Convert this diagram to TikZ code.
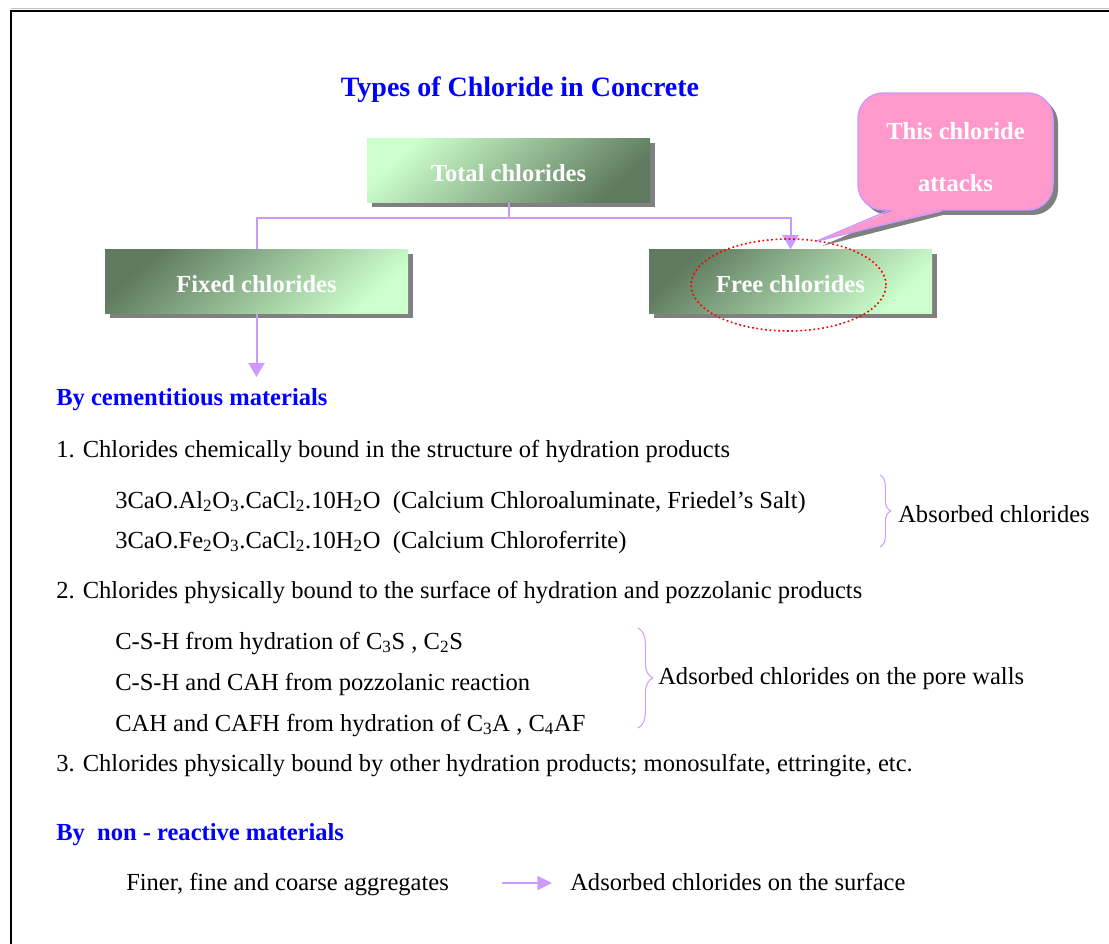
\documentclass[tikz,border=0pt]{standalone}
\usepackage{fontspec}
\setmainfont{Liberation Serif}
\usetikzlibrary{arrows.meta,shadows,decorations.pathreplacing,shapes.geometric}
\definecolor{lav}{HTML}{CC99FF}
\definecolor{pinkc}{HTML}{FF99CC}
\definecolor{gLight}{HTML}{CCFFCC}
\definecolor{gDark}{HTML}{5F7A5F}
\definecolor{shadowg}{HTML}{808080}
\definecolor{titleblue}{HTML}{0000FF}
\newcommand\bodyfs{\fontsize{18.4pt}{22pt}\selectfont}
\newcommand\boldfs{\fontsize{18.4pt}{22pt}\selectfont\bfseries}
\begin{document}
\begin{tikzpicture}[x=0.75pt,y=-0.75pt,
  txt/.style={font=\bodyfs, inner sep=0pt, anchor=base west},
  head/.style={font=\boldfs, text=titleblue, inner sep=0pt, anchor=base west},
  gbox/.style={minimum height=48pt, inner sep=0pt, text=white, font=\boldfs,
    text height=17pt, text depth=1pt,
    general shadow={fill=shadowg, shadow xshift=3.75pt, shadow yshift=-3.75pt}},
  boxA/.style={gbox, top color=gLight, bottom color=gDark, shading angle=42},
  boxB/.style={gbox, top color=gDark, bottom color=gLight, shading angle=42},
  conn/.style={draw=lav, line width=1.5pt},
  tip/.style={-{Triangle[width=12pt,length=10.5pt]}},
  bracestyle/.style={draw=lav, line width=0.75pt, decorate}
]
\useasboundingbox (0,0) rectangle (1109,944);
% frame
\draw[black!25, line width=0.75pt] (11,8.5) -- (1109,8.5);
\draw[black, line width=1.5pt] (11,944) -- (11,11) -- (1109,11);

% title
\node[font=\fontsize{21pt}{25pt}\selectfont\bfseries, text=titleblue, inner sep=0pt, anchor=base] (title) at (520,97) {Types of Chloride in Concrete};

% boxes
\node[boxA, minimum width=212.25pt] (total) at (508.5,170.5) {Total chlorides};
\node[boxB, minimum width=227.25pt] (fixed) at (256.5,281.5) {Fixed chlorides};
\node[boxB, minimum width=212.25pt] (free) at (790.5,281.5) {Free chlorides};

% connectors
\draw[conn] (total.south) -- ++(0,15) -| (fixed.north);
\draw[conn, tip] (total.south) -- ++(0,15) -| (free.north);
\coordinate (fixedend) at (256.5,377);
\draw[conn, tip] (fixed.south) -- (fixedend);

% red dotted ellipse
\node[ellipse, draw=red, line width=1.2pt, dash pattern=on 1.3pt off 2pt, minimum width=146.25pt, minimum height=69pt, inner sep=0pt] (ring) at (788.5,285) {};

% callout
\coordinate (ctip) at (817,241);
\fill[shadowg, rounded corners=19pt] (863,98) rectangle (1058,215);
\fill[shadowg] (895,214) -- (822,246) -- (947,214) -- cycle;
\draw[fill=pinkc, draw=lav, line width=1.1pt, rounded corners=19pt] (858,93) rectangle (1053,210);
\fill[pinkc] (890,211.5) -- (ctip) -- (942,211.5) -- cycle;
\fill[pinkc] (891,207) rectangle (941,212);
\draw[draw=lav, line width=1.1pt, line join=round] (890,210) -- (ctip) -- (942,210);
\node[font=\boldfs, text=white, inner sep=0pt, anchor=base] (call1) at (955.5,140) {This chloride};
\node[font=\boldfs, text=white, inner sep=0pt, anchor=base] (call2) at (955.5,192) {attacks};

% body text
\node[head] (h1) at (56,406) {By cementitious materials};
\node[txt] (l1) at (56,457) {1. Chlorides chemically bound in the structure of hydration products};
\node[txt] (f1) at (115,508) {3CaO.Al\textsubscript{2}O\textsubscript{3}.CaCl\textsubscript{2}.10H\textsubscript{2}O\ \ (Calcium Chloroaluminate, Friedel’s Salt)};
\node[txt] (f2) at (115,548) {3CaO.Fe\textsubscript{2}O\textsubscript{3}.CaCl\textsubscript{2}.10H\textsubscript{2}O\ \ (Calcium Chloroferrite)};
\draw[bracestyle, decoration={brace, amplitude=8pt}] (880,475) -- (880,547);
\node[txt] (abs) at (898,522) {Absorbed chlorides};

\node[txt] (l2) at (56,598) {2. Chlorides physically bound to the surface of hydration and pozzolanic products};
\node[txt] (c1) at (115,649) {C-S-H from hydration of C\textsubscript{3}S , C\textsubscript{2}S};
\node[txt] (c2) at (115,690) {C-S-H and CAH from pozzolanic reaction};
\node[txt] (c3) at (115,731) {CAH and CAFH from hydration of C\textsubscript{3}A , C\textsubscript{4}AF};
\draw[bracestyle, decoration={brace, amplitude=11pt}] (638,628) -- (638,728);
\node[txt] (ads) at (658,684) {Adsorbed chlorides on the pore walls};

\node[txt] (l3) at (56,771) {3. Chlorides physically bound by other hydration products; monosulfate, ettringite, etc.};

\node[head] (h2) at (56,840) {By\ \ non - reactive materials};
\node[txt] (agg) at (126,890) {Finer, fine and coarse aggregates};
\node[txt] (surf) at (570,890) {Adsorbed chlorides on the surface};
\coordinate (aggout) at (502,883);
\coordinate (surfin) at (552,883);
\draw[draw=lav, line width=1.1pt, -{Triangle[width=10.5pt,length=11pt]}] (aggout) -- (surfin);
\end{tikzpicture}
\end{document}
